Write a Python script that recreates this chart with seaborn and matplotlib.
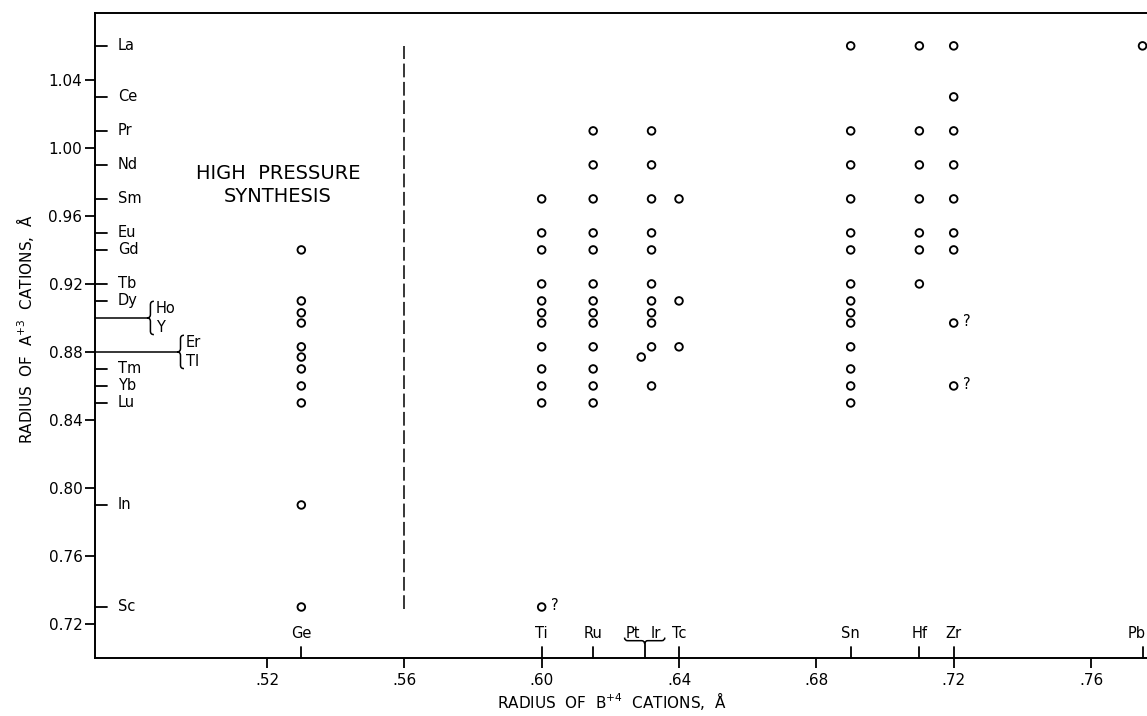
import numpy as np
import pandas as pd
import matplotlib
matplotlib.use("Agg")
import matplotlib.pyplot as plt
import matplotlib.transforms as mtransforms
from matplotlib.path import Path
from matplotlib.patches import PathPatch
import seaborn as sns

# A+3 cations (plotted radius; Ho/Y and Er/Tl are split slightly so both circles show)
a_cations = ['La', 'Ce', 'Pr', 'Nd', 'Sm', 'Eu', 'Gd', 'Tb', 'Dy', 'Ho', 'Y',
             'Er', 'Tl', 'Tm', 'Yb', 'Lu', 'In', 'Sc']
a_radius = [1.06, 1.03, 1.01, 0.99, 0.97, 0.95, 0.94, 0.92, 0.91, 0.903, 0.897,
            0.883, 0.877, 0.87, 0.86, 0.85, 0.79, 0.73]

# labels along the left axis
a_label_names = ['La', 'Ce', 'Pr', 'Nd', 'Sm', 'Eu', 'Gd', 'Tb', 'Dy', 'Tm', 'Yb', 'Lu', 'In', 'Sc']
a_label_radius = [1.06, 1.03, 1.01, 0.99, 0.97, 0.95, 0.94, 0.92, 0.91, 0.87, 0.86, 0.85, 0.79, 0.73]
a_pair_names = [('Ho', 'Y'), ('Er', 'Tl')]
a_pair_radius = [0.90, 0.88]

# B+4 cations
b_cations = ['Ge', 'Ti', 'Ru', 'Pt', 'Ir', 'Tc', 'Sn', 'Hf', 'Zr', 'Pb']
b_radius = [0.53, 0.60, 0.615, 0.629, 0.632, 0.64, 0.69, 0.71, 0.72, 0.775]

b_label_names = ['Ge', 'Ti', 'Ru', 'Tc', 'Sn', 'Hf', 'Zr', 'Pb']
b_label_radius = [0.53, 0.60, 0.615, 0.64, 0.69, 0.71, 0.72, 0.775]
b_pair_names = ('Pt', 'Ir')
b_pair_radius = 0.63

# known A2B2O7 compounds, per B cation
ge_a = ['Gd', 'Dy', 'Ho', 'Y', 'Er', 'Tl', 'Tm', 'Yb', 'Lu', 'In', 'Sc']
ti_a = ['Sm', 'Eu', 'Gd', 'Tb', 'Dy', 'Ho', 'Y', 'Er', 'Tm', 'Yb', 'Lu', 'Sc']
ru_a = ['Pr', 'Nd', 'Sm', 'Eu', 'Gd', 'Tb', 'Dy', 'Ho', 'Y', 'Er', 'Tm', 'Yb', 'Lu']
pt_a = ['Tl']
ir_a = ['Pr', 'Nd', 'Sm', 'Eu', 'Gd', 'Tb', 'Dy', 'Ho', 'Y', 'Er', 'Yb']
tc_a = ['Sm', 'Dy', 'Er']
sn_a = ['La', 'Pr', 'Nd', 'Sm', 'Eu', 'Gd', 'Tb', 'Dy', 'Ho', 'Y', 'Er', 'Tm', 'Yb', 'Lu']
hf_a = ['La', 'Pr', 'Nd', 'Sm', 'Eu', 'Gd', 'Tb']
zr_a = ['La', 'Ce', 'Pr', 'Nd', 'Sm', 'Eu', 'Gd', 'Y', 'Yb']
pb_a = ['La']
doubtful = [('Sc', 'Ti'), ('Y', 'Zr'), ('Yb', 'Zr')]

boundary_x = 0.56
boundary_y = (0.729, 1.06)

rA = dict(zip(a_cations, a_radius))
rB = dict(zip(b_cations, b_radius))
filas = []
for b, lista in zip(b_cations, [ge_a, ti_a, ru_a, pt_a, ir_a, tc_a, sn_a, hf_a, zr_a, pb_a]):
    for a in lista:
        filas.append({'A': a, 'B': b, 'rA': rA[a], 'rB': rB[b]})
df = pd.DataFrame(filas)

sns.set_style("ticks")
plt.rcParams['font.family'] = ['DejaVu Sans']
plt.rcParams['text.color'] = 'black'
plt.rcParams['axes.labelcolor'] = 'black'

fig = plt.figure(figsize=(11.47, 7.16), dpi=100)
ax = fig.add_axes([0.0828, 0.081, 0.9172, 0.901])

sns.scatterplot(data=df, x='rB', y='rA', ax=ax, marker='o', s=30,
                facecolor='none', edgecolor='black', linewidth=1.35,
                legend=False, clip_on=False, zorder=3)

ax.set_xlim(0.4699, 0.7763)
ax.set_ylim(0.70, 1.0794)

yt = np.arange(0.72, 1.041, 0.04)
ax.set_yticks(yt)
ax.set_yticklabels([f'{v:.2f}' for v in yt], fontsize=11)
xt = np.arange(0.52, 0.761, 0.04)
ax.set_xticks(xt)
ax.set_xticklabels([f'{v:.2f}'[1:] for v in xt], fontsize=11)
ax.tick_params(axis='both', direction='out', length=7, width=1.3, color='black', labelcolor='black')
ax.tick_params(axis='y', pad=2)
ax.tick_params(axis='x', pad=4)

for lado in ['left', 'bottom', 'top']:
    ax.spines[lado].set_linewidth(1.4)
    ax.spines[lado].set_color('black')
ax.spines['right'].set_visible(False)

ax.set_xlabel('RADIUS  OF  B$^{+4}$  CATIONS,  Å', fontsize=11)
ax.set_ylabel('RADIUS  OF  A$^{+3}$  CATIONS,  Å', fontsize=11)
ax.xaxis.set_label_coords(0.491, -0.05)
ax.yaxis.set_label_coords(-0.056, 0.51)

ytrans = ax.get_yaxis_transform()
xtrans = ax.get_xaxis_transform()


def brace(x, y, trans, span, depth, vertical):
    h = depth
    half = span / 2
    verts = [(-half, h), (-half, h / 2), (-half + h / 2, h / 2), (-h / 2, h / 2),
             (0, h / 2), (0, 0), (0, h / 2), (h / 2, h / 2), (half - h / 2, h / 2),
             (half, h / 2), (half, h)]
    codes = [Path.MOVETO, Path.CURVE3, Path.CURVE3, Path.LINETO, Path.CURVE3, Path.CURVE3,
             Path.CURVE3, Path.CURVE3, Path.LINETO, Path.CURVE3, Path.CURVE3]
    if vertical:
        verts = [(vy, vx) for vx, vy in verts]
    t = mtransforms.Affine2D().scale(fig.dpi / 72) + mtransforms.ScaledTranslation(x, y, trans)
    ax.add_artist(PathPatch(Path(verts, codes), transform=t, fill=False,
                            edgecolor='black', lw=1.1, clip_on=False))


# A cation labels inside the left axis
for nombre, r in zip(a_label_names, a_label_radius):
    ax.plot([0, 0.0114], [r, r], transform=ytrans, color='black', lw=1.3, clip_on=False)
    ax.annotate(nombre, xy=(0, r), xycoords=ytrans, xytext=(16.5, 0),
                textcoords='offset points', va='center', ha='left', fontsize=10.5)

pair_line_end = [0.0494, 0.078]
for (n1, n2), r, xe in zip(a_pair_names, a_pair_radius, pair_line_end):
    ax.plot([0, xe], [r, r], transform=ytrans, color='black', lw=1.1, clip_on=False)
    brace(xe, r, ytrans, 24, 5, True)
    ax.annotate(n1, xy=(xe, r), xycoords=ytrans, xytext=(6.5, 6.5),
                textcoords='offset points', va='center', ha='left', fontsize=10.5)
    ax.annotate(n2, xy=(xe, r), xycoords=ytrans, xytext=(6.5, -7),
                textcoords='offset points', va='center', ha='left', fontsize=10.5)

# B cation labels above the bottom axis (last one nudged in so it stays on the page)
b_label_dx = [0, 0, 0, 0, 0, 0, 0, -4]
for nombre, r, dx in zip(b_label_names, b_label_radius, b_label_dx):
    ax.plot([r, r], [0, 0.017], transform=xtrans, color='black', lw=1.3, clip_on=False)
    ax.annotate(nombre, xy=(r, 0), xycoords=xtrans, xytext=(dx, 18),
                textcoords='offset points', va='center', ha='center', fontsize=10.5)

ax.plot([b_pair_radius, b_pair_radius], [0, 0.022], transform=xtrans, color='black', lw=1.3, clip_on=False)
brace(b_pair_radius, 0.022, xtrans, 29, 4.5, False)
ax.annotate(b_pair_names[0], xy=(b_pair_radius, 0), xycoords=xtrans, xytext=(-8.5, 18),
            textcoords='offset points', va='center', ha='center', fontsize=10.5)
ax.annotate(b_pair_names[1], xy=(b_pair_radius, 0), xycoords=xtrans, xytext=(8, 18),
            textcoords='offset points', va='center', ha='center', fontsize=10.5)

# questionable compounds
for a, b in doubtful:
    ax.annotate('?', xy=(rB[b], rA[a]), xytext=(9.5, 1), textcoords='offset points',
                va='center', ha='center', fontsize=10.5)

# high pressure boundary
ax.vlines(boundary_x, boundary_y[0], boundary_y[1], colors='black', lw=1.1,
          linestyles=(0, (9, 3)))
ax.text(0.5232, 0.978, 'HIGH  PRESSURE\nSYNTHESIS', ha='center', va='center',
        fontsize=14, linespacing=1.25)

fig.savefig('out.png', dpi=100)
